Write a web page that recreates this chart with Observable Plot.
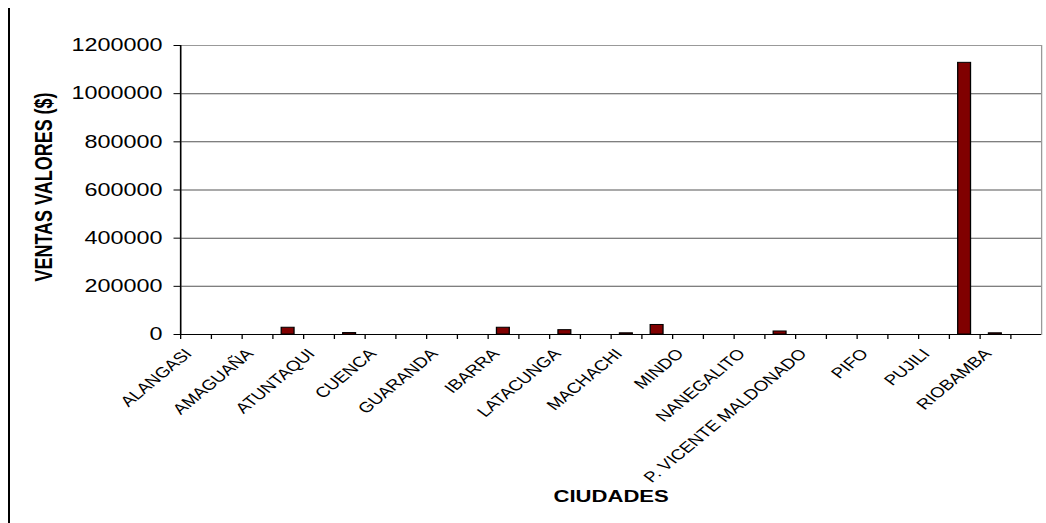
<!DOCTYPE html>
<html>
<head>
<meta charset="utf-8">
<script src="https://cdn.jsdelivr.net/npm/d3@7"></script>
<script src="https://cdn.jsdelivr.net/npm/@observablehq/plot@0.6"></script>
<style>
  html, body { margin: 0; padding: 0; background: #fff; }
  #chart { position: relative; width: 1046px; height: 523px; overflow: hidden; }
  #chart .borde { position: absolute; left: 8px; top: 8px; width: 2px; height: 515px; background: #000; }
  #chart svg { position: absolute; left: 0; top: 0; transform-origin: 0 0; }
</style>
</head>
<body>
<div id="chart"><div class="borde"></div></div>
<script>
// Ciudades con etiqueta en el eje (una de cada dos categorías)
const etiquetas = ["ALANGASI", "AMAGUAÑA", "ATUNTAQUI", "CUENCA", "GUARANDA", "IBARRA",
  "LATACUNGA", "MACHACHI", "MINDO", "NANEGALITO", "P. VICENTE MALDONADO", "PIFO", "PUJILI", "RIOBAMBA"];

// Ventas en valores ($) por categoría, en el orden del eje (28 categorías)
const ventas = [0, 0, 0, 28000, 0, 6000, 0, 0, 0, 0, 28000, 0, 18000, 0,
  5000, 39500, 0, 0, 0, 12500, 0, 0, 0, 0, 0, 1128000, 5000, 0];

const yTicks = [0, 200000, 400000, 600000, 800000, 1000000, 1200000];
const tituloY = "VENTAS VALORES ($)";
const tituloX = "CIUDADES";

// Texto ensanchado horizontalmente, como en la hoja de cálculo original
const estirar = 1.3;
const W = 1046, H = 523;

const barras = ventas.map((v, i) => ({i, v}));
const rotulos = etiquetas.map((nombre, k) => ({nombre, pos: 2 * k}));
const nCat = ventas.length;

const svg = Plot.plot({
  width: W / estirar,
  height: H,
  marginLeft: 180 / estirar,
  marginRight: W / estirar - 1041 / estirar,
  marginTop: 45,
  marginBottom: H - 334,
  style: {fontFamily: "'Liberation Sans', Arial, sans-serif", fontSize: "13px", color: "#000", background: "transparent"},
  x: {domain: [0, nCat], axis: null},
  y: {domain: [0, 1200000], axis: null},
  marks: [
    Plot.ruleY(yTicks.slice(1, -1), {stroke: "#555", strokeWidth: 1}),
    Plot.frame({stroke: "#999", strokeWidth: 1}),
    Plot.rectY(barras, {
      filter: d => d.v > 0,
      x1: d => d.i, x2: d => d.i + 1, y: "v",
      insetLeft: 6.9, insetRight: 6.9,
      fill: "#800000", stroke: "#000", strokeWidth: 1
    }),
    Plot.ruleY([0], {stroke: "#000", strokeWidth: 1.2}),
    Plot.ruleX([0], {stroke: "#000", strokeWidth: 1.2}),
    Plot.axisY({ticks: yTicks, tickSize: 5, tickPadding: 9, fontSize: 18,
      tickFormat: d => String(d), label: null, stroke: "#000"}),
    Plot.axisX({ticks: d3.range(nCat), tickSize: 5, tickFormat: () => "", label: null, stroke: "#000"}),
    Plot.text(rotulos, {
      x: d => d.pos + 0.5, text: "nombre", frameAnchor: "bottom",
      rotate: -47, textAnchor: "end", lineAnchor: "top",
      dx: -10, dy: 13, fontSize: 14.5, fill: "#000"
    }),
    Plot.text([tituloY], {
      text: d => d, frameAnchor: "left", dx: -(180 - 44) / estirar, dy: -3,
      rotate: -90, textAnchor: "middle", lineAnchor: "middle",
      fontSize: 18, fontWeight: "bold", fill: "#000"
    }),
    Plot.text([tituloX], {
      text: d => d, frameAnchor: "bottom", dy: 162,
      textAnchor: "middle", lineAnchor: "middle",
      fontSize: 17, fontWeight: "bold", fill: "#000"
    })
  ]
});
svg.style.transform = `scaleX(${estirar})`;
svg.style.maxWidth = "none";
document.getElementById("chart").appendChild(svg);
</script>
</body>
</html>
